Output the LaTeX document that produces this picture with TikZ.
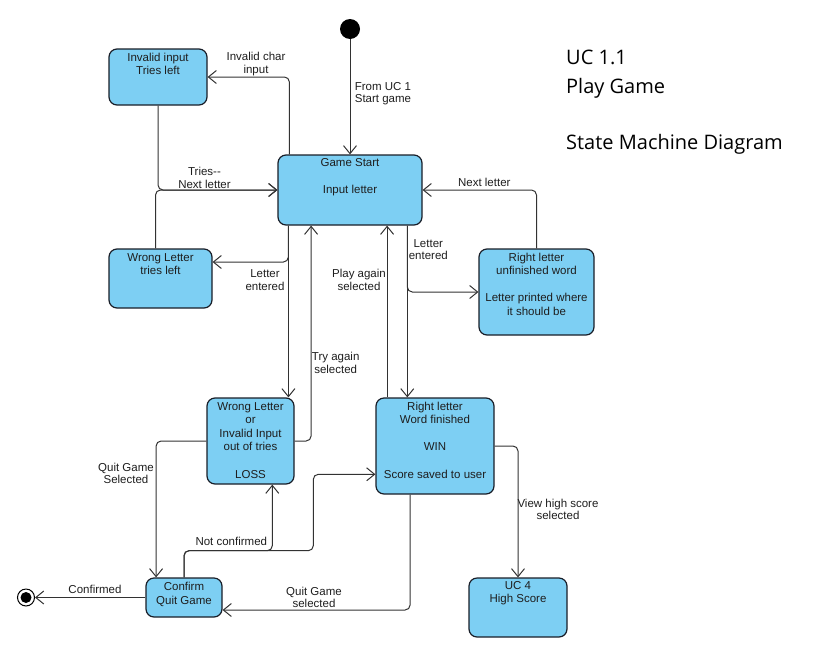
\documentclass[tikz,border=0pt]{standalone}
\usepackage{fontspec}
\setmainfont{Liberation Sans}
\newfontfamily\titlefont{Open Sans}
\usetikzlibrary{arrows.meta}
\definecolor{boxfill}{RGB}{125,207,243}
\definecolor{boxline}{RGB}{25,30,40}
\definecolor{conline}{RGB}{50,50,50}
\definecolor{txt}{RGB}{30,30,30}
\newcommand{\mlines}[1]{\begin{tabular}[t]{@{}c@{}}#1\end{tabular}}
\tikzset{
  stbox/.style={draw=boxline, fill=boxfill, line width=1.2pt, rounded corners=8pt, inner sep=0pt},
  sttext/.style={anchor=base, inner sep=0pt, text=txt, font=\fontsize{11.5}{13.6}\selectfont},
  lbl/.style={anchor=base, inner sep=0pt, text=txt, font=\fontsize{11.5}{12.6}\selectfont},
  tr/.style={draw=conline, line width=1pt, rounded corners=5pt, -{Straight Barb[length=8pt,width=13pt]}},
  ttl/.style={anchor=base west, inner sep=0pt, text=black, font=\titlefont\fontsize{20}{24}\selectfont}
}
\begin{document}
\begin{tikzpicture}[x=1pt,y=-1pt]
\useasboundingbox (0,0) rectangle (832,651);
% states
\node[stbox, minimum width=144pt, minimum height=70pt] (gs) at (350,190) {};
\node[stbox, minimum width=98pt, minimum height=56pt] (inv) at (158,77) {};
\node[stbox, minimum width=103pt, minimum height=59pt] (wtl) at (160.5,278.5) {};
\node[stbox, minimum width=115pt, minimum height=86pt] (ru) at (536.5,292) {};
\node[stbox, minimum width=87pt, minimum height=86pt] (loss) at (250.5,441) {};
\node[stbox, minimum width=118pt, minimum height=96pt] (win) at (435,446) {};
\node[stbox, minimum width=76pt, minimum height=39pt] (conf) at (184,597.5) {};
\node[stbox, minimum width=98pt, minimum height=59pt] (uc4) at (518,607.5) {};
% state texts
\node[sttext] (gst) at (350,166.7) {\mlines{Game Start\\[13.6pt]Input letter}};
\node[sttext] (invt) at (158,61) {\mlines{Invalid input\\Tries left}};
\node[sttext] (wtlt) at (160.5,261) {\mlines{Wrong Letter\\tries left}};
\node[sttext] (rut) at (536.5,261) {\mlines{Right letter\\unfinished word\\[13.6pt]Letter printed where\\it should be}};
\node[sttext] (losst) at (250.5,410) {\mlines{Wrong Letter\\or\\Invalid Input\\out of tries\\[13.6pt]LOSS}};
\node[sttext] (wint) at (435,410) {\mlines{Right letter\\Word finished\\[13.6pt]WIN\\[13.6pt]Score saved to user}};
\node[sttext] (conft) at (184,590.7) {\mlines{Confirm\\Quit Game}};
\node[sttext] (uc4t) at (518,589.3) {\mlines{UC 4\\High Score}};
% pseudo states
\node[circle, fill=black, minimum size=20pt, inner sep=0pt] (init) at (350,29) {};
\node[circle, draw=black, line width=1pt, fill=white, minimum size=17pt, inner sep=0pt] (fin) at (26,597.5) {};
\node[circle, fill=black, minimum size=11pt, inner sep=0pt] (fini) at (26,597.5) {};
% coordinates
\coordinate (nc) at (272.3,550.7);
\coordinate (nw) at (313.3,550.7);
% transitions
\draw[tr] (init) -- (gs.north);
\draw[tr] ([xshift=12pt]gs.north west) |- (inv.east);
\draw[tr] (inv.south) |- (gs.west);
\draw[tr] ([xshift=-5pt]wtl.north) |- (gs.west);
\draw[tr] ([xshift=11pt]gs.south west) |- ([yshift=16.5pt]wtl.east);
\draw[tr] ([xshift=11pt]gs.south west) -- ([xshift=11pt]gs.south west |- loss.north);
\draw[tr] (loss.east) -| ([xshift=33.7pt]gs.south west);
\draw[tr] ([xshift=11.7pt]win.north west) -- ([xshift=11.7pt]win.north west |- gs.south);
\draw[tr] ([xshift=-15.3pt]gs.south east) -- ([xshift=-15.3pt]gs.south east |- win.north);
\draw[tr] ([xshift=-15.3pt]gs.south east) |- (ru.west);
\draw[tr] (ru.north) |- (gs.east);
\draw[tr] (loss.west) -| ([xshift=10.7pt]conf.north west);
\draw[tr] (conf.north) |- (nc) -- (nc |- loss.south);
\draw[tr] (conf.north) |- (nw) |- ([yshift=-28.3pt]win.west);
\draw[tr] ([xshift=34.7pt]win.south west) |- ([yshift=-12.5pt]conf.east);
\draw[tr] (win.east) -| (uc4.north);
\draw[tr] (conf.west) -- (fin);
% labels
\node[lbl] (l1) at (256,60.7) {\mlines{Invalid char\\input}};
\node[lbl] (l2) at (383,90) {\mlines{From UC 1\\Start game}};
\node[lbl] (l3) at (204.5,175.7) {\mlines{Tries-{}-\\Next letter}};
\node[lbl] (l4) at (265,277.7) {\mlines{Letter\\entered}};
\node[lbl] (l5) at (359,277.7) {\mlines{Play again\\selected}};
\node[lbl] (l6) at (428.3,247.3) {\mlines{Letter\\entered}};
\node[lbl] (l7) at (484.3,186.7) {Next letter};
\node[lbl] (l8) at (335.7,360.7) {\mlines{Try again\\selected}};
\node[lbl] (l9) at (126,471) {\mlines{Quit Game\\Selected}};
\node[lbl] (l10) at (231.3,545) {Not confirmed};
\node[lbl] (l11) at (314,595) {\mlines{Quit Game\\selected}};
\node[lbl] (l12) at (558,507.3) {\mlines{View high score\\selected}};
\node[lbl] (l13) at (95,593.3) {Confirmed};
% title
\node[ttl] (t1) at (566,64.3) {UC 1.1};
\node[ttl] (t2) at (566,93.3) {Play Game};
\node[ttl] (t3) at (566,149.3) {State Machine Diagram};
\end{tikzpicture}
\end{document}
